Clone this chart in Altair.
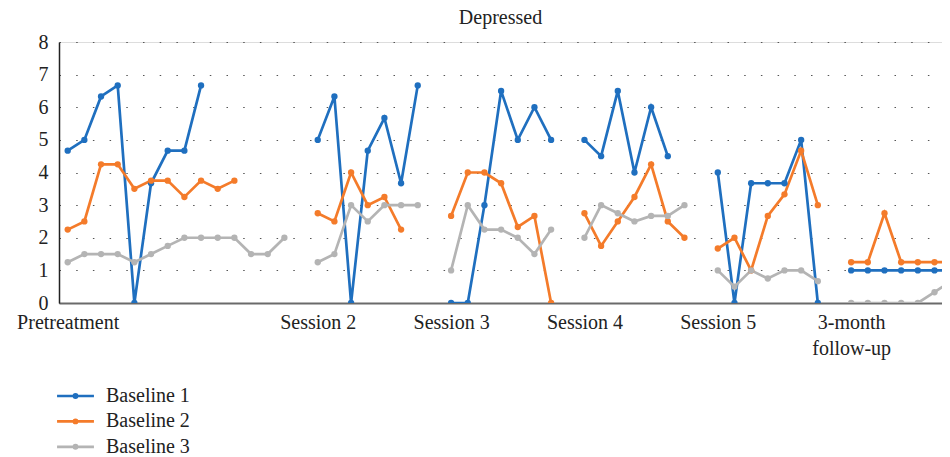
import json
import altair as alt
import pandas as pd

N = None
block_starts = [0, 15, 23, 31, 39, 47]
tick_labels = ["Pretreatment", "Session 2", "Session 3", "Session 4", "Session 5", ["3-month", "follow-up"]]
series_names = ["Baseline 1", "Baseline 2", "Baseline 3"]
series_colors = ["#1f6fbf", "#f47b2a", "#b4b4b4"]
y_ticks = [0, 1, 2, 3, 4, 5, 6, 7, 8]

baseline1 = [4.67, 5, 6.33, 6.67, 0, 3.67, 4.67, 4.67, 6.67, N, N, N, N, N, N,
             5, 6.33, 0, 4.67, 5.67, 3.67, 6.67, N,
             0, 0, 3, 6.5, 5, 6, 5, N,
             5, 4.5, 6.5, 4, 6, 4.5, N, N,
             4, 0, 3.67, 3.67, 3.67, 5, 0, N,
             1, 1, 1, 1, 1, 1, 1]
baseline2 = [2.25, 2.5, 4.25, 4.25, 3.5, 3.75, 3.75, 3.25, 3.75, 3.5, 3.75, N, N, N, N,
             2.75, 2.5, 4, 3, 3.25, 2.25, N, N,
             2.67, 4, 4, 3.67, 2.33, 2.67, 0, N,
             2.75, 1.75, 2.5, 3.25, 4.25, 2.5, 2, N,
             1.67, 2, 1, 2.67, 3.33, 4.67, 3, N,
             1.25, 1.25, 2.75, 1.25, 1.25, 1.25, 1.25]
baseline3 = [1.25, 1.5, 1.5, 1.5, 1.25, 1.5, 1.75, 2, 2, 2, 2, 1.5, 1.5, 2, N,
             1.25, 1.5, 3, 2.5, 3, 3, 3, N,
             1, 3, 2.25, 2.25, 2, 1.5, 2.25, N,
             2, 3, 2.75, 2.5, 2.67, 2.67, 3, N,
             1, 0.5, 1, 0.75, 1, 1, 0.67, N,
             0, 0, 0, 0, 0, 0.33, 0.67]

rows = []
for name, vals in zip(series_names, [baseline1, baseline2, baseline3]):
    for i, v in enumerate(vals):
        if v is None:
            continue
        blk = max(j for j, s in enumerate(block_starts) if s <= i)
        rows.append({"idx": i, "value": v, "series": name, "block": blk})
df = pd.DataFrame(rows)

expr = json.dumps(tick_labels[-1])
for s, lab in reversed(list(zip(block_starts[:-1], tick_labels[:-1]))):
    expr = f"datum.value == {s} ? {json.dumps(lab)} : ({expr})"

FONT = "Liberation Serif"
sym_path = "M-4,0H4M-0.35,0A0.35,0.35,0,1,1,0.35,0A0.35,0.35,0,1,1,-0.35,0"

chart = alt.Chart(df).mark_line(
    strokeWidth=2.7, clip=True,
    point=alt.OverlayMarkDef(filled=True, size=40, clip=True),
).encode(
    x=alt.X("idx:Q",
            scale=alt.Scale(domain=[-0.522, 52.45], nice=False, zero=False),
            axis=alt.Axis(values=block_starts, labelExpr=expr, grid=False, ticks=False,
                          domainColor="#6a6a6a", domainWidth=2, labelFont=FONT,
                          labelFontSize=20, labelColor="#222", labelPadding=9,
                          labelLineHeight=26, labelFlush=False, labelOverlap=False,
                          title=None)),
    y=alt.Y("value:Q",
            scale=alt.Scale(domain=[0, 8], nice=False),
            axis=alt.Axis(values=y_ticks, grid=True, gridDash=[1.5, 15.2], gridColor="#555",
                          gridWidth=1.2, ticks=False, domainColor="#222", domainWidth=1.5,
                          labelFont=FONT, labelFontSize=20, labelColor="#222",
                          labelPadding=11, title=None)),
    color=alt.Color("series:N",
                    scale=alt.Scale(domain=series_names, range=series_colors),
                    legend=alt.Legend(orient="none", legendX=6.5, legendY=344,
                                      direction="vertical", title=None,
                                      symbolType=sym_path, symbolSize=85,
                                      symbolStrokeWidth=2.7, labelFont=FONT,
                                      labelFontSize=20, labelColor="#222",
                                      labelOffset=20.5, rowPadding=5.4)),
    detail="block:N",
).properties(
    width=883, height=261,
    title=alt.TitleParams("Depressed", font=FONT, fontSize=20, fontWeight="normal",
                          color="#222", anchor="middle", offset=4.5),
    autosize=alt.AutoSizeParams(type="none"),
    padding={"left": 51, "top": 34, "right": 0, "bottom": 160},
).configure_view(stroke=None).configure(background="white")

chart.save("out.html", embed_options={"renderer": "svg", "actions": False})
